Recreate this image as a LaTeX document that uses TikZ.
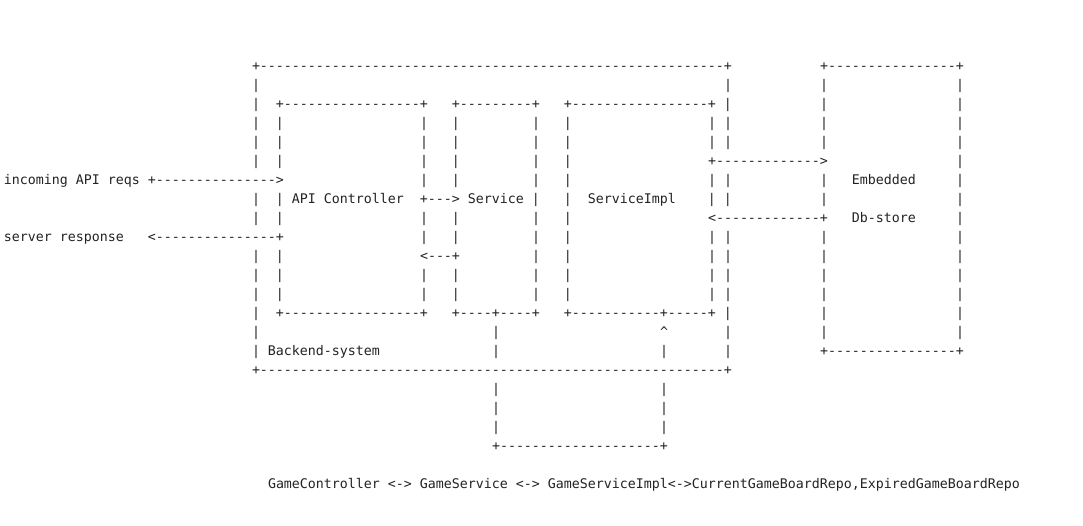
\documentclass[tikz,border=0pt]{standalone}
\usepackage{fontspec}
\setmonofont{DejaVu Sans Mono}
\definecolor{inkc}{RGB}{35,35,35}
\ExplSyntaxOn
\cs_new:Npn \asciidash #1 {\prg_replicate:nn{#1}{-\kern0pt}}
\ExplSyntaxOff
\newlength\cw
\setlength\cw{8pt}
\newcommand\asciifont{\ttfamily\fontsize{13.2879}{19}\selectfont\frenchspacing}
\newcommand\asciigap[1]{\hspace*{#1\cw}}
\newcommand\wallrow{\asciigap{31}|\asciigap{2}|\asciigap{17}|\asciigap{3}|\asciigap{9}|\asciigap{3}|\asciigap{17}|\asciigap{1}|\asciigap{11}|\asciigap{16}|}
\tikzset{asciirow/.style={anchor=base west, inner sep=0pt, outer sep=0pt, font=\asciifont, text=inkc}}
\begin{document}
\begin{tikzpicture}[x=1pt,y=-1pt]
\fill[white] (0,0) rectangle (1083,526);
\useasboundingbox (0,0) rectangle (1083,526);
\begin{scope}[yshift=-1.5pt]
\node[asciirow] (r0) at (4,69) {\asciigap{31}+\asciidash{58}+\asciigap{11}+\asciidash{16}+};
\node[asciirow] (r1) at (4,88) {\asciigap{31}|\asciigap{58}|\asciigap{11}|\asciigap{16}|};
\node[asciirow] (r2) at (4,107) {\asciigap{31}|\asciigap{2}+\asciidash{17}+\asciigap{3}+\asciidash{9}+\asciigap{3}+\asciidash{17}+\asciigap{1}|\asciigap{11}|\asciigap{16}|};
\node[asciirow] (r3) at (4,126) {\wallrow};
\node[asciirow] (r4) at (4,145) {\wallrow};
\node[asciirow] (r5) at (4,164) {\asciigap{31}|\asciigap{2}|\asciigap{17}|\asciigap{3}|\asciigap{9}|\asciigap{3}|\asciigap{17}+\asciidash{13}>\asciigap{16}|};
\node[asciirow] (r6) at (4,183) {incoming API reqs\asciigap{1}+\asciidash{15}>\asciigap{17}|\asciigap{3}|\asciigap{9}|\asciigap{3}|\asciigap{17}|\asciigap{1}|\asciigap{11}|\asciigap{3}Embedded\asciigap{5}|};
\node[asciirow] (r7) at (4,202) {\asciigap{31}|\asciigap{2}|\asciigap{1}API Controller\asciigap{2}+\asciidash{3}>\asciigap{1}Service\asciigap{1}|\asciigap{3}|\asciigap{2}ServiceImpl\asciigap{4}|\asciigap{1}|\asciigap{11}|\asciigap{16}|};
\node[asciirow] (r8) at (4,221) {\asciigap{31}|\asciigap{2}|\asciigap{17}|\asciigap{3}|\asciigap{9}|\asciigap{3}|\asciigap{17}<\asciidash{13}+\asciigap{3}Db-store\asciigap{5}|};
\node[asciirow] (r9) at (4,240) {server response\asciigap{3}<\asciidash{15}+\asciigap{17}|\asciigap{3}|\asciigap{9}|\asciigap{3}|\asciigap{17}|\asciigap{1}|\asciigap{11}|\asciigap{16}|};
\node[asciirow] (r10) at (4,259) {\asciigap{31}|\asciigap{2}|\asciigap{17}<\asciidash{3}+\asciigap{9}|\asciigap{3}|\asciigap{17}|\asciigap{1}|\asciigap{11}|\asciigap{16}|};
\node[asciirow] (r11) at (4,278) {\wallrow};
\node[asciirow] (r12) at (4,297) {\wallrow};
\node[asciirow] (r13) at (4,316) {\asciigap{31}|\asciigap{2}+\asciidash{17}+\asciigap{3}+\asciidash{4}+\asciidash{4}+\asciigap{3}+\asciidash{11}+\asciidash{5}+\asciigap{1}|\asciigap{11}|\asciigap{16}|};
\node[asciirow] (r14) at (4,335) {\asciigap{31}|\asciigap{29}|\asciigap{20}\textasciicircum\asciigap{7}|\asciigap{11}|\asciigap{16}|};
\node[asciirow] (r15) at (4,354) {\asciigap{31}|\asciigap{1}Backend-system\asciigap{14}|\asciigap{20}|\asciigap{7}|\asciigap{11}+\asciidash{16}+};
\node[asciirow] (r16) at (4,373) {\asciigap{31}+\asciidash{58}+};
\node[asciirow] (r17) at (4,392) {\asciigap{61}|\asciigap{20}|};
\node[asciirow] (r18) at (4,411) {\asciigap{61}|\asciigap{20}|};
\node[asciirow] (r19) at (4,430) {\asciigap{61}|\asciigap{20}|};
\node[asciirow] (r20) at (4,449) {\asciigap{61}+\asciidash{20}+};
\node[asciirow] (r22) at (4,487) {\asciigap{33}GameController <-> GameService <-> GameServiceImpl<->CurrentGameBoardRepo,ExpiredGameBoardRepo};
\end{scope}
\end{tikzpicture}
\end{document}
